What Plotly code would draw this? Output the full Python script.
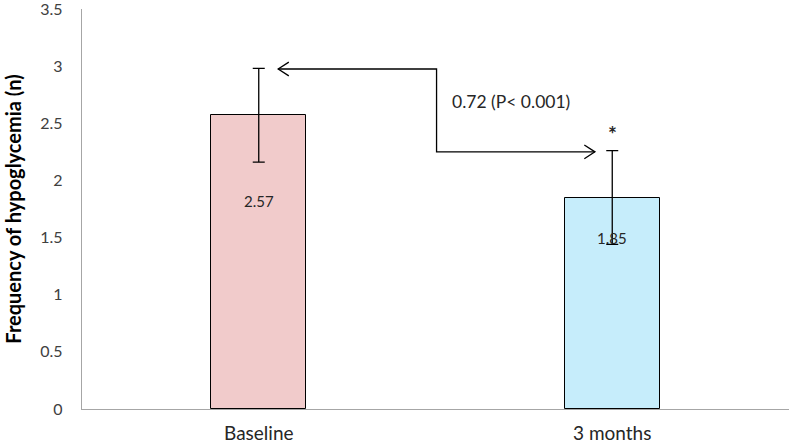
import plotly.graph_objects as go

categories = ["Baseline", "3 months"]
values = [2.57, 1.85]
errors = [0.41, 0.41]
value_labels = ["2.57", "1.85"]
bar_colors = ["#F1CBCB", "#C6EDFB"]
y_ticks = [0, 0.5, 1, 1.5, 2, 2.5, 3, 3.5]
y_tick_labels = ["0", "0.5", "1", "1.5", "2", "2.5", "3", "3.5"]
diff_label = "0.72 (P< 0.001)"

fig = go.Figure()
fig.add_trace(go.Bar(
    x=categories, y=values, width=0.27,
    marker=dict(color=bar_colors, line=dict(color="#000000", width=1)),
    error_y=dict(type="data", array=errors, color="#000000", thickness=1.3, width=6),
    hoverinfo="skip",
))

font = "Lato, Open Sans, sans-serif"
# value labels inside bars
label_y = [1.82, 1.50]
for i, (lab, ly) in enumerate(zip(value_labels, label_y)):
    fig.add_annotation(x=i, y=ly, text=lab, showarrow=False,
                       font=dict(family=font, size=15, color="#262626"))
# significance star
fig.add_annotation(x=1, y=2.41, text="<b>*</b>", showarrow=False,
                   font=dict(family=font, size=21, color="#262626"))
# difference label
fig.add_annotation(x=0.54, y=2.69, text=diff_label, showarrow=False, xanchor="left",
                   font=dict(family=font, size=17.5, color="#262626"))

# connector path
xm, y_top, y_bot = 0.503, 2.975, 2.25
x_left, x_right = 0.055, 0.951
fig.add_shape(type="path", xref="x", yref="y",
              path=f"M {x_left},{y_top} L {xm},{y_top} L {xm},{y_bot} L {x_right},{y_bot}",
              line=dict(color="#000000", width=1.3))
# arrowheads (open chevrons)
dx, dy = 0.03, 0.06
fig.add_shape(type="path", xref="x", yref="y",
              path=f"M {x_left+dx},{y_top+dy} L {x_left},{y_top} L {x_left+dx},{y_top-dy}",
              line=dict(color="#000000", width=1.3))
fig.add_shape(type="path", xref="x", yref="y",
              path=f"M {x_right-dx},{y_bot+dy} L {x_right},{y_bot} L {x_right-dx},{y_bot-dy}",
              line=dict(color="#000000", width=1.3))

fig.update_layout(
    width=789, height=445,
    margin=dict(l=82, r=0, t=9, b=36, autoexpand=False),
    plot_bgcolor="white", paper_bgcolor="white",
    showlegend=False,
    font=dict(family=font, size=15, color="#404040"),
    bargap=0,
)
fig.update_xaxes(
    type="category", range=[-0.5, 1.5], automargin=False,
    showline=True, linecolor="#A6A6A6", linewidth=1.3,
    ticks="", showgrid=False, zeroline=False, ticklabelstandoff=7,
    tickfont=dict(family=font, size=19, color="#262626"),
)
fig.update_yaxes(
    range=[0, 3.5], tickvals=y_ticks, ticktext=y_tick_labels, automargin=False,
    showline=True, linecolor="#A6A6A6", linewidth=1.3,
    ticks="", showgrid=False, zeroline=False, ticklabelstandoff=15,
    ticklabeloverflow="allow",
    tickfont=dict(family=font, size=16, color="#404040"),
    title=dict(text="<b>Frequency of hypoglycemia (n)</b>",
               font=dict(family=font, size=20, color="#000000"), standoff=13),
)

fig.write_html("out.html",
               config={"displayModeBar": False},
               post_script="document.body.style.margin='0';document.body.style.overflow='hidden';")
